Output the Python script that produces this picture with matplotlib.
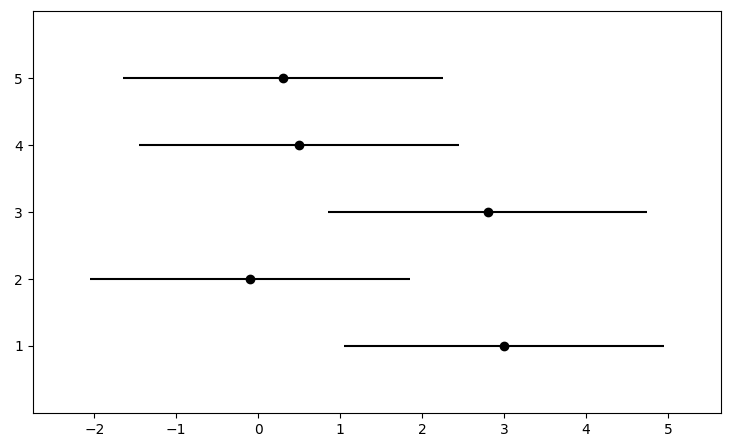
import numpy as np
import matplotlib.pyplot as plt

# estimates and interval half-widths, one row per study
rows = [1, 2, 3, 4, 5]
estimates = [3.0, -0.1, 2.8, 0.5, 0.3]
half_widths = [1.95, 1.95, 1.95, 1.95, 1.95]

fig = plt.figure(figsize=(7.3, 4.45), dpi=100)
ax = fig.add_axes([0.045, 0.072, 0.943, 0.903])

ax.errorbar(estimates, rows, xerr=half_widths, fmt='o', color='black',
            ecolor='black', elinewidth=1.5, markersize=6)

ax.set_xlim(-2.75, 5.65)
ax.set_ylim(0, 6)
ax.set_yticks(rows)
ax.set_xticks(np.arange(-2, 6))

fig.savefig('out.png', dpi=100)
